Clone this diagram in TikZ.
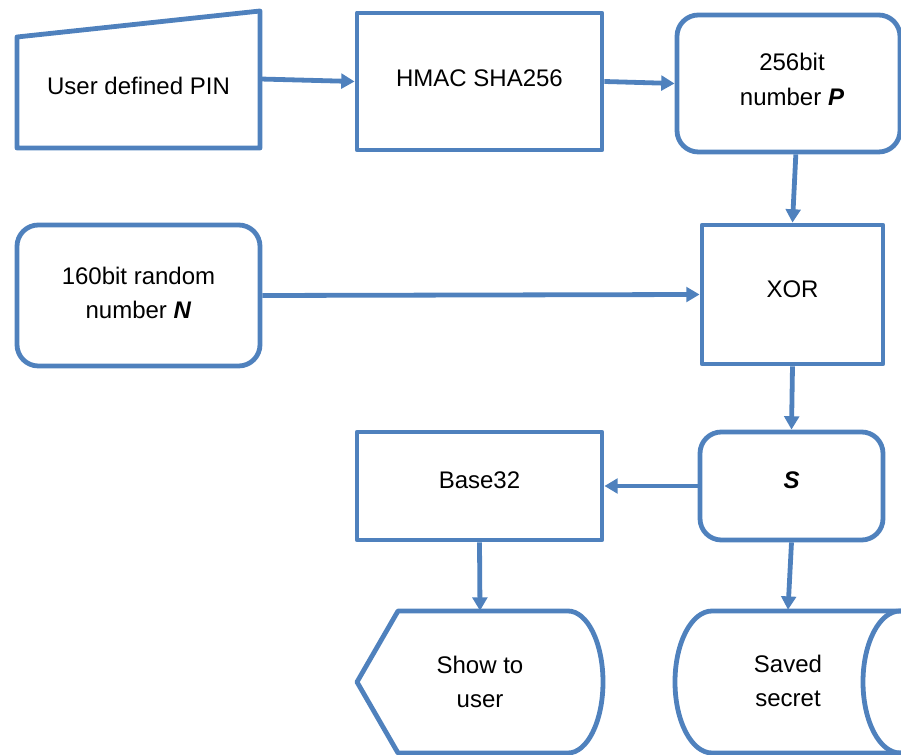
\documentclass[tikz,border=0pt]{standalone}
\usepackage{fontspec}
\setmainfont{Liberation Sans}
\usetikzlibrary{arrows.meta}

\definecolor{flowblue}{HTML}{4F81BD}

\begin{document}
\begin{tikzpicture}[x=0.75pt, y=-0.75pt,
  txt/.style={font=\fontsize{18}{26}\selectfont, align=center, inner sep=0pt},
  outline/.style={draw=flowblue, line width=3.6pt, line join=round},
  box/.style={outline, rectangle, inner sep=0pt},
  rbox/.style={box, rounded corners=16pt},
  flow/.style={draw=flowblue, line width=3.6pt, -{Triangle[length=10pt,width=11pt]}}
]
\useasboundingbox (0,0) rectangle (901,755);

% process boxes
\node[box, minimum width=245*0.75pt, minimum height=137*0.75pt] (hmac) at (479.5,81.5) {};
\node[rbox, minimum width=223*0.75pt, minimum height=137*0.75pt] (p) at (788.5,83.5) {};
\node[box, minimum width=181*0.75pt, minimum height=139*0.75pt] (xor) at (792.5,294.5) {};
\node[rbox, minimum width=243*0.75pt, minimum height=141*0.75pt] (n) at (138.5,295.5) {};
\node[box, minimum width=245*0.75pt, minimum height=108*0.75pt] (base) at (479.5,486) {};
\node[rbox, minimum width=183*0.75pt, minimum height=108*0.75pt] (s) at (791.5,486) {};

% box labels
\node[txt] (hmactext) at (479.5,78) {HMAC SHA256};
\node[txt] (ptext) at (792,79.5) {256bit\\number \textbf{\textit{P}}};
\node[txt] (xortext) at (792.5,289) {XOR};
\node[txt] (ntext) at (138.5,293) {160bit random\\number \textbf{\textit{N}}};
\node[txt] (basetext) at (479.5,480) {Base32};
\node[txt] (stext) at (791.5,480) {\textbf{\textit{S}}};

% manual input: user defined PIN
\draw[outline] (17,37) -- (260,11) -- (260,148) -- (17,148) -- cycle;
\node[txt, minimum width=243*0.75pt] (pin) at (138.5,86) {User defined PIN};

% display: show to user
\draw[outline] (357,682) -- (398,611) -- (568,611)
  arc[start angle=-90, end angle=90, x radius=35, y radius=71] -- (398,753) -- cycle;
\node[txt, minimum width=246*0.75pt, minimum height=142*0.75pt] (show) at (480,682) {Show to\\user};

% direct access storage: saved secret
\draw[outline] (940,611) -- (712,611)
  arc[start angle=-90, end angle=-270, x radius=37, y radius=71] -- (940,753);
\draw[outline] (900,682) ellipse [x radius=37, y radius=71];
\node[txt, minimum width=226*0.75pt, minimum height=142*0.75pt] (saved) at (788,681) {Saved\\secret};

% connectors
\draw[flow] ([yshift=5.25pt]pin.east) -- (hmac.west);
\draw[flow] (hmac.east) -- (p.west);
\draw[flow] ([xshift=5.5pt]p.south) -- (xor.north);
\draw[flow] (n.east) -- (xor.west);
\draw[flow] (xor.south) -- (s.north);
\draw[flow] (s.west) -- (base.east);
\draw[flow] (base.south) -- (show.north);
\draw[flow] (s.south) -- (saved.north);
\end{tikzpicture}
\end{document}
